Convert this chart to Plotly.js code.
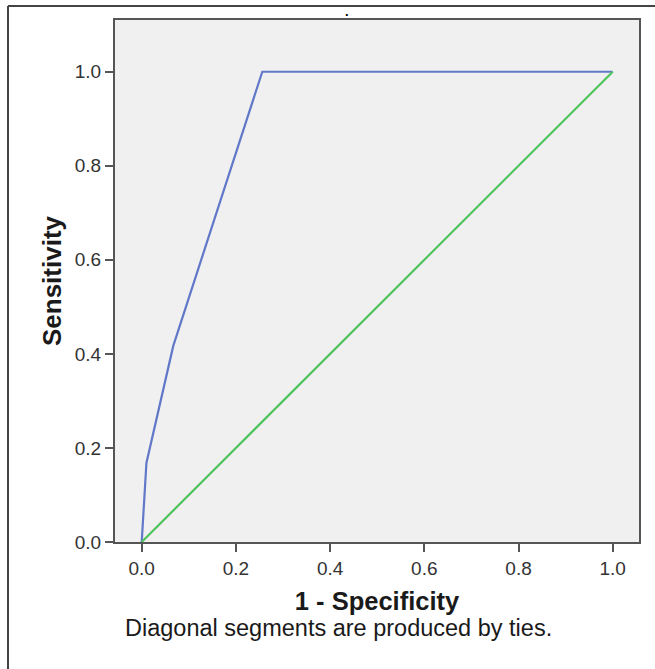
<!DOCTYPE html>
<html>
<head>
<meta charset="utf-8">
<script src="https://cdn.plot.ly/plotly-3.0.1.min.js"></script>
<style>
  html, body { margin: 0; padding: 0; background: #fff; }
  #chart { width: 655px; height: 669px; }
</style>
</head>
<body>
<div id="chart"></div>
<script>
// ROC curve values
const rocX = [0, 0.01, 0.067, 0.256, 1];
const rocY = [0, 0.168, 0.417, 1, 1];
// reference diagonal
const refX = [0, 1];
const refY = [0, 1];
const tickVals = [0, 0.2, 0.4, 0.6, 0.8, 1.0];
const tickText = ["0.0", "0.2", "0.4", "0.6", "0.8", "1.0"];
const xTitle = "1 - Specificity";
const yTitle = "Sensitivity";
const caption = "Diagonal segments are produced by ties.";
const chartTitle = ".";

const font = "Liberation Sans, Arial, sans-serif";

const traces = [
  { x: rocX, y: rocY, mode: "lines", type: "scatter",
    line: { color: "#6178c9", width: 2.2 }, hoverinfo: "skip", showlegend: false },
  { x: refX, y: refY, mode: "lines", type: "scatter",
    line: { color: "#4fc45c", width: 2.2 }, hoverinfo: "skip", showlegend: false }
];

const axisCommon = {
  showgrid: false, zeroline: false,
  showline: true, linecolor: "#555", linewidth: 2, mirror: true,
  ticks: "outside", ticklen: 8, tickwidth: 2, tickcolor: "#555",
  tickvals: tickVals, ticktext: tickText,
  tickfont: { family: font, size: 19, color: "#333" }
};

const layout = {
  width: 655, height: 669,
  margin: { l: 115, r: 16, t: 20, b: 127 },
  paper_bgcolor: "#ffffff",
  plot_bgcolor: "#f0f0f0",
  font: { family: font },
  xaxis: Object.assign({}, axisCommon, {
    range: [-0.0567, 1.0558],
    title: { text: xTitle, standoff: 14, font: { family: font, size: 25.5, color: "#1a1a1a", weight: "bold" } }
  }),
  yaxis: Object.assign({}, axisCommon, {
    range: [0, 1.11],
    title: { text: yTitle, standoff: 6, font: { family: font, size: 26, color: "#1a1a1a", weight: "bold" } }
  }),
  annotations: [
    { text: caption, xref: "paper", yref: "paper", x: 0.4256, y: -0.1648,
      xanchor: "center", yanchor: "middle", showarrow: false,
      font: { family: font, size: 23.5, color: "#1a1a1a" } },
    { text: "<b>" + chartTitle + "</b>", xref: "paper", yref: "paper", x: 0.4427, y: 1.0345,
      xanchor: "center", yanchor: "top", showarrow: false,
      font: { family: font, size: 13, color: "#000" } }
  ],
  shapes: [
    { type: "line", xref: "paper", yref: "paper", x0: -0.2042, x1: -0.2042, y0: 1.0268, y1: -0.5,
      line: { color: "#444", width: 2 } },
    { type: "line", xref: "paper", yref: "paper", x0: -0.2042, x1: 1.06, y0: 1.0268, y1: 1.0268,
      line: { color: "#444", width: 2 } }
  ]
};

Plotly.newPlot("chart", traces, layout, { displayModeBar: false, staticPlot: true });
</script>
</body>
</html>
